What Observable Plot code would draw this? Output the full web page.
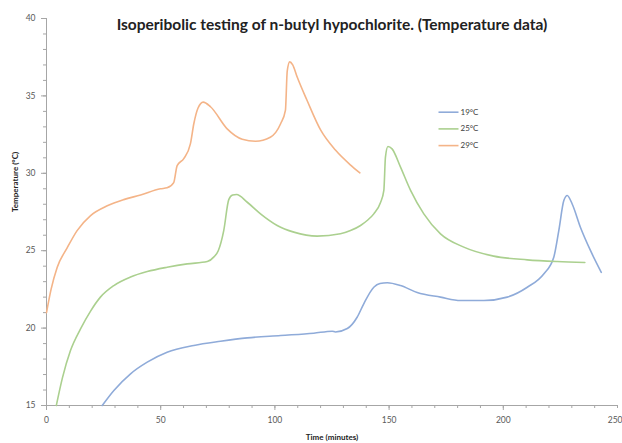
<!DOCTYPE html>
<html>
<head>
<meta charset="utf-8">
<script src="https://cdn.jsdelivr.net/npm/d3@7"></script>
<script src="https://cdn.jsdelivr.net/npm/@observablehq/plot@0.6"></script>
<style>
  html, body { margin: 0; padding: 0; background: #fff; }
  #chart { width: 622px; height: 443px; }
</style>
</head>
<body>
<div id="chart"></div>
<script>
const title = "Isoperibolic testing of n-butyl hypochlorite. (Temperature data)";
const xLabel = "Time (minutes)";
const yLabel = "Temperature (°C)";
const seriesNames = ["19°C", "25°C", "29°C"];
const seriesColors = ["#8fabd9", "#abd08f", "#f4b488"];
const xTicks = [0, 50, 100, 150, 200];
const xLastTick = [250];
const yTicks = [15, 20, 25, 30, 35, 40];

// 19°C series: [time, temperature]
const s19 = [
  [24.4,15.0],[29.5,15.97],[36.8,17.05],[44.1,17.8],[52.8,18.44],[64.5,18.88],
  [76.2,19.15],[87.9,19.37],[102.5,19.52],[117,19.67],[125.1,19.8],[126.5,19.75],
  [131.7,19.97],[136,20.7],[138.9,21.57],[143.3,22.64],[146,22.88],
  [149.2,22.93],[155,22.75],[162.3,22.3],[172.5,22.0],[181.3,21.78],[191.5,21.78],
  [201.7,22.0],[210.5,22.64],[217.7,23.5],[222.1,24.58],[224.3,26.3],[226.5,28.24],
  [228,28.57],[230.2,28.0],[233.8,26.5],[238.2,25.0],[242.9,23.6]
];
// 25°C series
const s25 = [
  [4.3,15.0],[7,16.8],[10.5,18.55],[14.9,19.95],[19.3,21.1],[23.6,22.0],[29.5,22.75],
  [36.8,23.3],[44.1,23.65],[52.8,23.93],[61.6,24.15],[70.4,24.3],[73.3,24.6],
  [75.2,25.0],[77.6,26.3],[79.8,28.3],[81.5,28.6],[83.2,28.63],[87.9,28.13],[93.7,27.38],
  [101,26.63],[108.3,26.2],[118.5,25.94],[128.7,26.09],[133.1,26.3],[137.5,26.63],
  [140.4,26.95],[143.3,27.38],[146.2,28.1],[147.7,28.9],[148.4,31.04],[149.5,31.73],
  [151.3,31.58],[155,30.4],[159.4,28.9],[165.2,27.38],[172.5,26.09],[182.7,25.23],
  [195.8,24.65],[210.5,24.41],[223.6,24.3],[235.7,24.24]
];
// 29°C series
const s29 = [
  [0,21.0],[2,22.5],[4.7,23.93],[9.1,25.2],[13.4,26.3],[19.3,27.27],[26.6,27.9],
  [33.8,28.3],[41.2,28.6],[49.9,29.0],[52.8,29.06],[55.7,29.4],[57.2,30.5],
  [60.1,30.95],[63,31.9],[64.5,33.2],[66.3,34.2],[68.6,34.6],[71.8,34.3],
  [79.1,32.87],[85.7,32.2],[91.5,32.07],[98,32.33],[102.5,33.2],[104.6,34.06],
  [105.4,36.6],[106.5,37.2],[107.8,37.0],[109.8,36.2],[114.1,34.7],[120,32.8],
  [126.5,31.5],[133,30.55],[137.2,30.03]
];

const seriesData = [s19, s25, s29];
const rows = [];
seriesData.forEach((s, i) => s.forEach(([t, v]) => rows.push({t, v, series: seriesNames[i]})));

const legendRows = seriesNames.map((name, i) => ({name, color: seriesColors[i], i}));
const dashSymbol = {draw(ctx, size) { ctx.moveTo(-10, 0); ctx.lineTo(10, 0); }};

const font = "Lato, 'Open Sans', sans-serif";
const gray = "#a6a6a6";

const chart = Plot.plot({
  width: 622,
  height: 443,
  marginLeft: 46,
  marginRight: 5,
  marginTop: 18,
  marginBottom: 38,
  style: {fontFamily: font, background: "#fff", overflow: "visible"},
  x: {domain: [0, 250]},
  y: {domain: [15, 40]},
  color: {domain: seriesNames, range: seriesColors},
  marks: [
    Plot.axisX(d3.range(0, 251, 10), {tickSize: 3, text: null, stroke: gray, label: null}),
    Plot.axisY(d3.range(15, 41, 1), {tickSize: 3, text: null, stroke: gray, label: null}),
    Plot.axisX(xTicks, {tickSize: 5, tickPadding: 6, stroke: gray, fill: "#595959", fontSize: 8.5, label: null}),
    Plot.axisX(xLastTick, {tickSize: 5, tickPadding: 6, stroke: gray, fill: "#595959", fontSize: 8.5, label: null, textAnchor: "end", dx: 5}),
    Plot.axisY(yTicks, {tickSize: 5, tickPadding: 6, stroke: gray, fill: "#595959", fontSize: 8.5, label: null}),
    Plot.ruleX([0], {stroke: gray}),
    Plot.ruleY([15], {stroke: gray}),
    Plot.line(rows, {x: "t", y: "v", z: "series", stroke: "series", strokeWidth: 1.6, curve: "monotone-x"}),
    Plot.text([title], {frameAnchor: "top", dy: 7, fontSize: 15.5, fontWeight: "bold", fill: "#222", lineAnchor: "middle"}),
    Plot.text([xLabel], {frameAnchor: "bottom", dy: 32, fontSize: 8, fontWeight: "bold", fill: "#222", lineAnchor: "middle"}),
    Plot.text([yLabel], {frameAnchor: "left", dx: -31, rotate: -90, fontSize: 8, fontWeight: "bold", fill: "#222"}),
    ...legendRows.map((d) => Plot.dot([d], {frameAnchor: "top-left", dx: 402, dy: 93.7 + d.i * 16.7, symbol: dashSymbol, r: 10, stroke: d.color, strokeWidth: 1.6, fill: "none"})),
    ...legendRows.map((d) => Plot.text([d.name], {frameAnchor: "top-left", dx: 414, dy: 93.7 + d.i * 16.7, fontSize: 8, fill: "#404040", textAnchor: "start", lineAnchor: "middle"}))
  ]
});

document.getElementById("chart").appendChild(chart);
</script>
</body>
</html>
